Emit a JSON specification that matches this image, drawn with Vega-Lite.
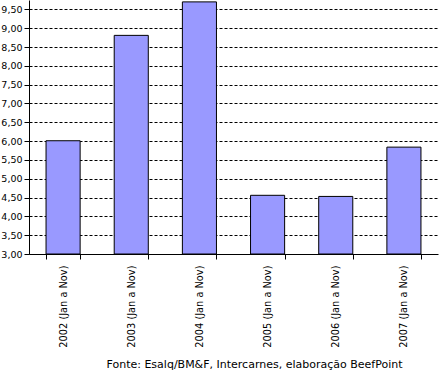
{
  "$schema": "https://vega.github.io/schema/vega-lite/v6.json",
  "width": 409,
  "height": 254,
  "autosize": "none",
  "padding": {"left": 29, "top": 0, "right": 1, "bottom": 116},
  "background": "white",
  "config": {"view": {"stroke": null}, "font": "DejaVu Sans"},
  "data": {"values": [
    {"periodo": "2002 (Jan a Nov)", "valor": 6.01},
    {"periodo": "2003  (Jan a Nov)", "valor": 8.81},
    {"periodo": "2004  (Jan a Nov)", "valor": 9.70},
    {"periodo": "2005  (Jan a Nov)", "valor": 4.56},
    {"periodo": "2006  (Jan a Nov)", "valor": 4.53},
    {"periodo": "2007  (Jan a Nov)", "valor": 5.84}
  ]},
  "mark": {"type": "bar", "color": "#9999FF", "stroke": "black", "strokeWidth": 1},
  "encoding": {
    "x": {
      "field": "periodo", "type": "nominal", "sort": null,
      "scale": {"paddingInner": 0.5, "paddingOuter": 0.25},
      "axis": {
        "title": "Fonte: Esalq/BM&F, Intercarnes, elaboração BeefPoint",
        "titleFont": "DejaVu Sans", "titleFontSize": 11, "titleFontWeight": "normal",
        "titleColor": "black", "titleX": 225, "titleY": 113, "titleBaseline": "alphabetic",
        "labelAngle": -90, "labelFontSize": 9.8, "labelColor": "black",
        "labelAlign": "right", "labelBaseline": "middle", "labelPadding": 6,
        "labelOverlap": false, "labelLimit": 200,
        "tickBand": "extent", "tickColor": "black", "tickSize": 5,
        "domainColor": "black", "grid": false
      }
    },
    "y": {
      "field": "valor", "type": "quantitative",
      "scale": {"domain": [3, 9.75], "nice": false, "zero": false},
      "axis": {
        "title": null,
        "values": [3, 3.5, 4, 4.5, 5, 5.5, 6, 6.5, 7, 7.5, 8, 8.5, 9, 9.5],
        "labelExpr": "replace(format(datum.value, '.2f'), '.', ',')",
        "labelFontSize": 9.5, "labelColor": "black", "labelPadding": 2,
        "tickColor": "black", "tickSize": 5, "domainColor": "black",
        "grid": true, "gridColor": "black", "gridDash": [3, 2], "gridWidth": 1, "gridOpacity": 1
      }
    },
    "y2": {"datum": 3}
  }
}
